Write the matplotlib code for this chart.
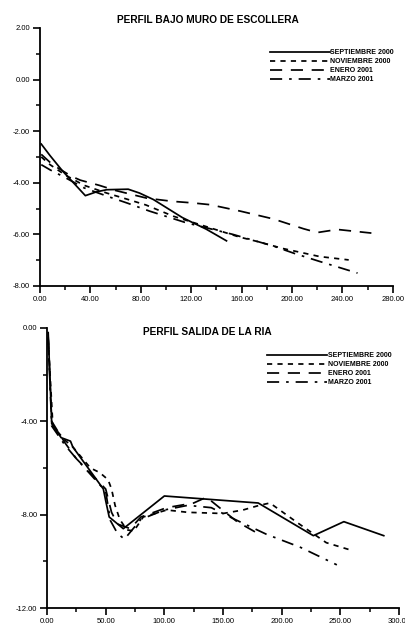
import matplotlib
matplotlib.use("Agg")
import matplotlib.pyplot as plt
from matplotlib.ticker import MultipleLocator, FormatStrFormatter

plt.rcParams['font.family'] = ['Liberation Sans Narrow', 'Liberation Sans', 'DejaVu Sans']

# --- PERFIL BAJO MURO DE ESCOLLERA ---
top_title = "PERFIL BAJO MURO DE ESCOLLERA"
top_sep_x = [1, 8, 18, 36, 45, 53, 70, 79, 90, 113, 132, 148]
top_sep_y = [-2.5, -2.95, -3.55, -4.5, -4.35, -4.27, -4.25, -4.4, -4.65, -5.35, -5.8, -6.25]
top_nov_x = [1, 8, 20, 35, 53, 70, 84, 106, 132, 158, 172, 193, 222, 245]
top_nov_y = [-3.0, -3.3, -3.7, -4.1, -4.4, -4.65, -4.86, -5.3, -5.7, -6.1, -6.27, -6.55, -6.86, -6.99]
top_ene_x = [1, 10, 25, 32, 47, 60, 85, 105, 121, 135, 159, 185, 209, 220, 236, 263]
top_ene_y = [-2.9, -3.3, -3.75, -3.9, -4.1, -4.3, -4.6, -4.72, -4.78, -4.85, -5.1, -5.4, -5.78, -5.93, -5.81, -5.95]
top_mar_x = [1, 8, 20, 35, 55, 70, 87, 116, 153, 185, 202, 222, 252]
top_mar_y = [-3.3, -3.5, -3.8, -4.2, -4.55, -4.8, -5.1, -5.55, -6.0, -6.45, -6.74, -7.05, -7.5]

# --- PERFIL SALIDA DE LA RIA ---
bot_title = "PERFIL SALIDA DE LA RIA"
bot_sep_x = [1, 4, 12, 20, 22, 48, 50, 53, 65, 80, 100, 180, 227, 253, 287]
bot_sep_y = [-0.2, -4.1, -4.7, -4.85, -5.1, -6.9, -7.4, -8.1, -8.6, -8.0, -7.2, -7.5, -8.9, -8.3, -8.9]
bot_nov_x = [1, 5, 15, 22, 37, 45, 52, 55, 58, 62, 68, 74, 82, 102, 120, 150, 167, 181, 190, 215, 238, 261]
bot_nov_y = [-0.5, -4.2, -4.8, -5.1, -6.0, -6.2, -6.5, -6.9, -7.6, -8.2, -8.65, -8.7, -8.1, -7.8, -7.9, -7.95, -7.8, -7.6, -7.5, -8.4, -9.2, -9.55]
bot_ene_x = [1, 4, 15, 25, 50, 55, 60, 71, 80, 102, 125, 136, 147, 162, 183]
bot_ene_y = [-0.4, -4.0, -4.9, -5.6, -6.9, -7.9, -8.4, -8.6, -8.1, -7.7, -7.5, -7.25, -7.7, -8.3, -8.9]
bot_mar_x = [1, 4, 15, 25, 50, 54, 60, 66, 80, 100, 120, 140, 160, 187, 216, 247]
bot_mar_y = [-0.5, -4.2, -5.0, -5.6, -7.0, -8.25, -8.8, -9.05, -8.2, -7.8, -7.6, -7.7, -8.2, -8.84, -9.4, -10.15]

labels = ["SEPTIEMBRE 2000", "NOVIEMBRE 2000", "ENERO 2001", "MARZO 2001"]
styles = ['-', (0, (3, 3)), (0, (7, 5)), (0, (7, 4, 1.5, 4))]

fig = plt.figure(figsize=(4.06, 6.28), dpi=100)


def style_axes(ax, xmax, xmaj, ymin, ymax, ymaj):
    ax.set_xlim(0, xmax)
    ax.set_ylim(ymin, ymax)
    for s in ['top', 'right']:
        ax.spines[s].set_visible(False)
    for s in ['left', 'bottom']:
        ax.spines[s].set_linewidth(1.3)
    ax.xaxis.set_major_locator(MultipleLocator(xmaj))
    ax.xaxis.set_minor_locator(MultipleLocator(xmaj / 2))
    ax.yaxis.set_major_locator(MultipleLocator(ymaj))
    ax.yaxis.set_minor_locator(MultipleLocator(ymaj / 2))
    ax.xaxis.set_major_formatter(FormatStrFormatter('%.2f'))
    ax.yaxis.set_major_formatter(FormatStrFormatter('%.2f'))
    ax.tick_params(which='major', direction='out', length=5, width=1.2, labelsize=5.5, pad=2)
    ax.tick_params(which='minor', direction='out', length=3, width=1.1)


def draw(ax, series, title, title_y, title_size, leg_anchor):
    for (xs, ys), lab, ls in zip(series, labels, styles):
        ax.plot(xs, ys, color='black', linewidth=1.25, linestyle=ls, label=lab)
    fig.text(0.512, title_y, title, ha='center', va='center', fontsize=title_size, fontweight='bold')
    fig.legend(*ax.get_legend_handles_labels(), loc='upper left', bbox_to_anchor=leg_anchor,
               frameon=False, handlelength=8.6, handletextpad=0.1,
               labelspacing=0.3, borderpad=0, borderaxespad=0,
               prop={'weight': 'bold', 'size': 5.0})


ax1 = fig.add_axes([0.0985, 0.5446, 0.869, 0.411])
style_axes(ax1, 280, 40, -8, 2, 2)
draw(ax1, [(top_sep_x, top_sep_y), (top_nov_x, top_nov_y), (top_ene_x, top_ene_y), (top_mar_x, top_mar_y)],
     top_title, 1 - 20 / 628, 7.3, (0.665, 1 - 49 / 628))

ax2 = fig.add_axes([0.1158, 0.0318, 0.867, 0.446])
style_axes(ax2, 300, 50, -12, 0, 4)
draw(ax2, [(bot_sep_x, bot_sep_y), (bot_nov_x, bot_nov_y), (bot_ene_x, bot_ene_y), (bot_mar_x, bot_mar_y)],
     bot_title, 1 - 332 / 628, 7.3, (0.658, 1 - 352 / 628))

fig.savefig("out.png", dpi=100)
